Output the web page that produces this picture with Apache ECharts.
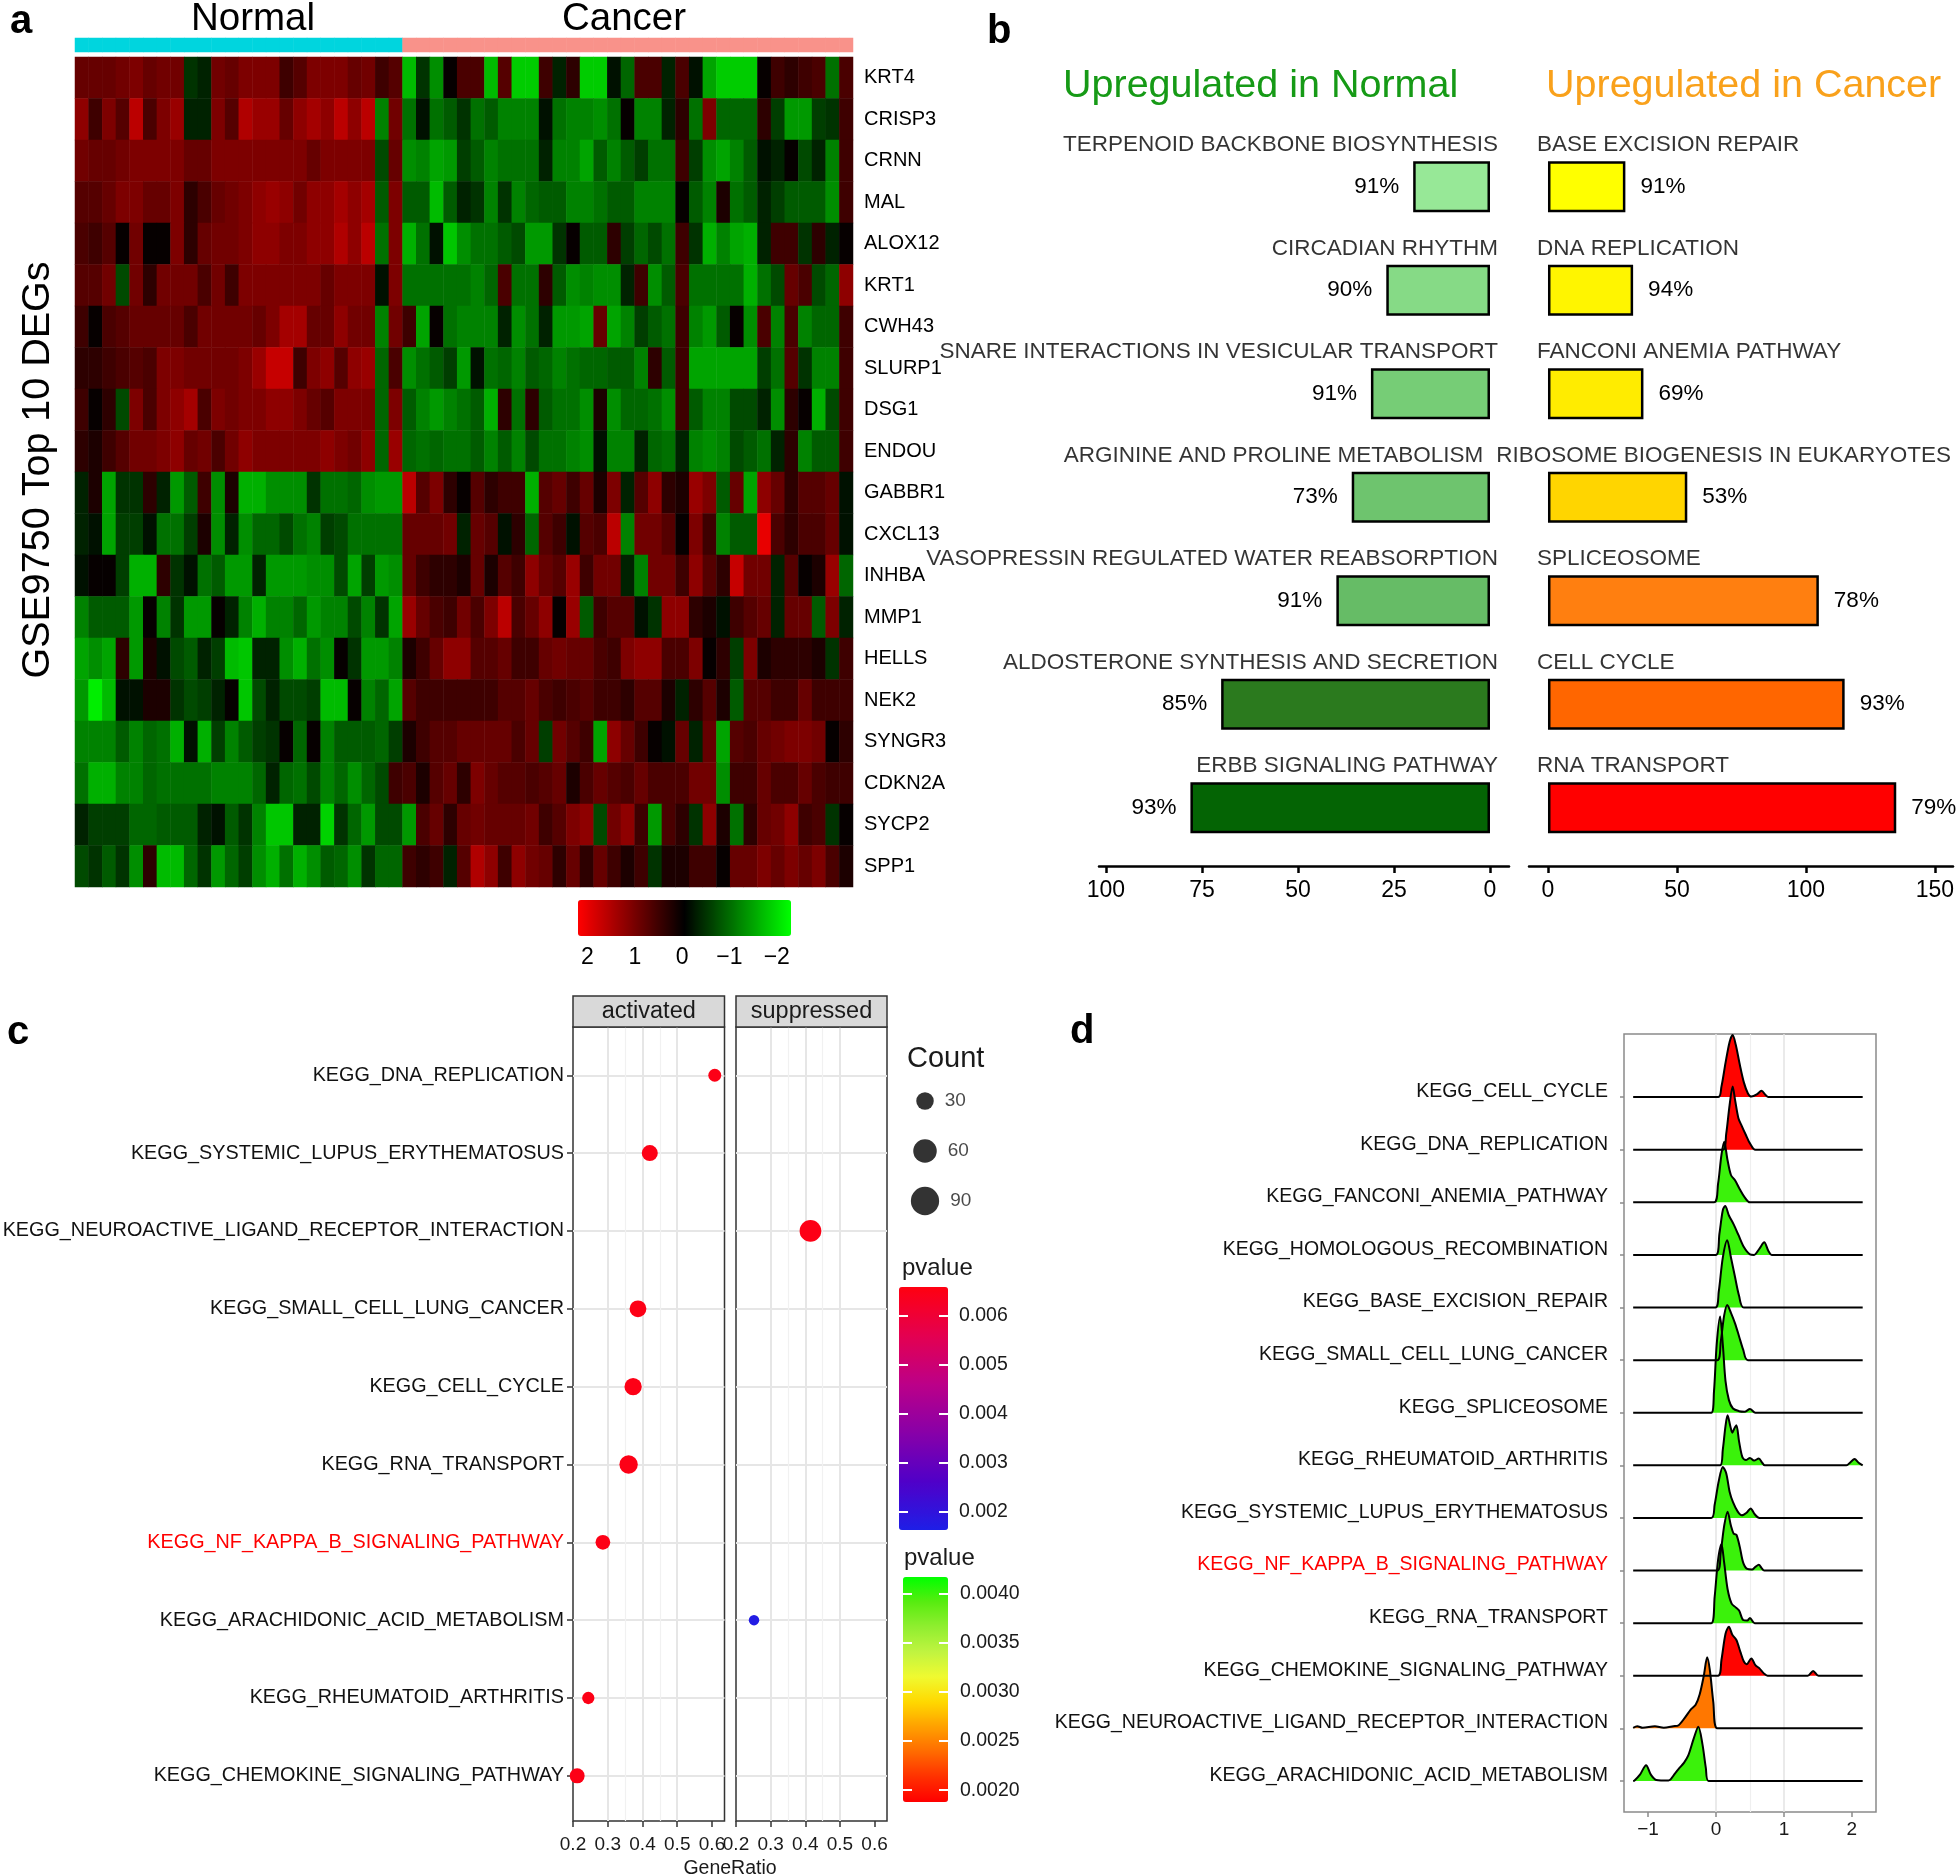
<!DOCTYPE html>
<html><head><meta charset="utf-8">
<script src="https://cdn.jsdelivr.net/npm/echarts@6/dist/echarts.min.js"></script>
<style>html,body{margin:0;padding:0;background:#fff}#c{width:1957px;height:1875px}</style>
</head><body><div id="c"></div>
<script>
// ---------------- DATA ----------------
// (a) heatmap (row z-scores, first 24 columns Normal, next 33 Cancer)
const genes = ['KRT4','CRISP3','CRNN','MAL','ALOX12','KRT1','CWH43','SLURP1','DSG1','ENDOU','GABBR1','CXCL13','INHBA','MMP1','HELLS','NEK2','SYNGR3','CDKN2A','SYCP2','SPP1'];
const groupNames = ['Normal','Cancer'];
const groupSizes = [24, 33];
const expr = [
[0.85,0.85,0.85,0.95,1.05,0.85,0.95,0.95,-0.5,-0.35,0.95,0.85,1.05,1.05,1.05,0.5,0.7,1.05,1.05,1.05,0.85,0.95,0.5,0.7, -1.7,-0.5,-1.3,0,0.6,0.6,-1.7,0.7,-1.85,-1.85,0.5,-0.35,0.35,-1.85,-1.85,-0.2,-0.95,0.6,0.6,-0.35,0.6,-0.2,-1.5,-1.85,-1.85,-1.85,0,0.5,0.35,0.5,0.6,-1.05,0.6],
[1.2,0.5,1.05,0.7,1.6,0.6,1.05,1.3,-0.35,-0.35,1.05,0.7,1.5,1.3,1.3,0.85,1.2,1.4,1.2,1.6,1.2,1.6,-1.2,0.95, -1.05,-0.2,-1.05,-0.85,-0.5,-1.05,-0.85,-1.2,-1.2,-1.2,-0.2,-1.05,-1.2,-1.2,-1.3,-1.05,0,-1.2,-1.2,-0.35,0.35,-1.05,1.05,-0.95,-0.95,-0.95,0.35,-0.6,-1.4,-1.4,-0.6,-0.5,0.5],
[0.95,0.85,0.85,0.95,1.05,1.05,1.05,1.05,0.85,0.85,1.05,1.05,1.05,1.05,1.05,1.05,1.05,0.85,1.05,1.05,1.05,1.05,-0.7,0.85, -1.3,-1.2,-1.5,-1.4,-0.6,-0.85,-1.2,-1.05,-1.05,-1.05,-0.35,-1.2,-1.2,-1.5,-0.85,-1.2,-0.85,-0.6,-1.05,-1.05,0.5,-0.6,-1.3,-1.5,-1.2,-0.85,-0.2,-0.35,0,-0.7,-0.35,-1.2,0.5],
[0.7,0.7,0.85,1.05,1.05,0.85,0.85,1.05,0.35,0.6,0.85,0.95,1.05,1.2,1.3,1.2,0.95,1.2,1.2,1.4,1.2,1.4,-0.85,1.05, -0.85,-0.85,-1.7,-0.85,-0.35,-0.5,-1.2,-0.5,-1.2,-0.95,-0.85,-0.85,-1.2,-1.2,-1.05,-0.85,-0.85,-1.2,-1.2,-1.2,0,-0.85,-1.2,0.2,-1.05,-0.85,-0.35,-0.6,-0.85,-0.85,-0.85,-1.3,0.5],
[0.6,0.5,0.7,0,0.95,0,0,1.05,0.35,0.85,0.95,0.95,1.05,1.2,1.2,1.05,1.05,1.2,1.2,1.5,1.2,1.6,-1.05,1.05, -1.6,-1.05,-0.2,-1.8,-1.3,-1.05,-1.05,-0.85,-0.7,-1.4,-1.4,-0.5,0,-0.85,-0.85,0.35,-0.6,-0.95,-0.7,-1.05,0.5,-0.5,-1.6,-1.2,-1.5,-1.6,-0.35,0.5,0.5,-0.5,0.35,-0.35,0],
[0.7,0.7,0.95,-0.7,0.95,0.35,0.95,0.95,0.95,0.6,0.95,0.5,1.05,1.05,1.05,1.05,1.05,1.05,0.85,1.05,1.05,1.05,-0.2,1.05, -1.05,-1.05,-1.05,-1.05,-1.05,-1.2,-0.95,0.6,-1.05,-1.05,0.35,-0.85,-1.3,-1.2,-1.3,-1.3,-0.35,0.5,-1.3,-0.85,0.6,-1.05,-1.05,-1.05,-1.05,-1.6,-1.05,-0.7,0.85,0.6,-0.7,-0.95,1.2],
[0.5,0,0.6,0.7,0.85,0.85,0.85,0.85,0.6,0.95,0.95,0.95,0.95,0.85,1.05,1.4,1.4,0.85,0.85,1.2,0.95,0.95,-1.2,0.95, 0.5,-1.5,0,-1.05,-1.2,-1.2,-1.2,-0.35,-1.3,-1.05,-0.35,-1.4,-1.4,-1.5,0.85,-1.5,-1.2,-0.6,-0.85,-1.05,0.5,-1.2,-1.4,-0.85,0,-1.3,0.6,-1.2,0.6,-1.2,-0.95,-0.95,0.5],
[0.35,0.35,0.5,0.6,0.7,0.6,1.05,1.05,0.95,0.95,0.95,0.95,1.05,1.3,1.7,1.7,0.5,1.05,1.2,0.7,1.2,1.3,-0.95,0.6, -1.3,-1.05,-0.85,-0.6,-1.4,-0.2,-1.05,-0.95,-1.2,-0.85,-0.95,-1.2,-1.05,-0.95,-0.95,-0.85,-0.85,-1.2,0.35,-0.85,0.5,-1.5,-1.5,-1.5,-1.5,-1.5,-0.6,-1.05,0.7,-0.5,-1.2,-1.2,0.5],
[0.5,0,0.35,-0.7,1.05,0.6,1.05,1.2,1.4,0.6,1.05,0.95,1.05,1.05,1.2,1.2,1.05,0.85,0.7,1.05,1.05,1.05,-0.95,1.05, -0.85,-1.2,-1.4,-1.2,-1.05,-0.85,-1.6,0.35,-1.05,0.35,-0.85,-1.05,-1.05,-1.3,0.2,-1.3,-0.95,-0.95,-1.05,-1.3,0.5,-0.85,-1.2,-1.2,-0.7,-0.7,-0.35,-1.3,0.35,0,-1.6,-0.7,0.5],
[0.35,0.2,0.5,0.7,0.95,0.95,1.05,1.2,0.85,0.95,0.6,0.95,1.2,1.05,1.05,1.05,1.05,1.05,1.2,1.05,0.95,1.2,-0.95,1.3, -0.95,-1.05,-0.95,-1.05,-1.05,-0.85,-1.2,-0.85,-1.2,-0.7,-1.05,-1.05,-1.2,-1.3,-0.2,-1.2,-1.2,-0.35,-0.95,-1.05,-0.35,-1.2,-1.3,-1.2,-0.7,-0.85,-1.05,-0.35,0.35,-1.2,-0.85,-0.85,0.5],
[-0.35,0.2,-1.5,-0.5,-0.5,0.35,-0.35,-1.4,-0.85,0.5,-1.3,0.2,-1.6,-1.6,-1.3,-1.3,-1.3,-0.5,-1.05,-1.05,-0.95,-1.3,-1.4,-1.4, 1.6,0.7,1.05,0.35,0,0.7,0.35,0.5,0.5,-1.6,0.7,0.85,0.5,0.85,0.2,1.05,-0.35,0.7,1.2,0.35,0.2,1.3,1.05,-0.85,0.85,-1.5,1.2,0.85,0.35,0.7,0.7,0.85,-0.2],
[-0.35,-0.2,-1.5,-0.6,-0.6,-0.2,-1.05,-1.05,-0.6,0.2,-1.3,-0.35,-1.3,-0.95,-0.95,-0.7,-1.05,-1.2,-0.6,-0.7,-1.05,-1.05,-1.05,-1.05, 0.85,0.85,0.85,0.95,-0.35,0.85,0.7,-0.2,0.35,-0.95,0.7,0.5,-0.2,0.7,0.6,1.6,-1.2,0.95,0.95,0.7,0,1.05,0.5,-1.2,-0.85,-0.85,2.0,0.6,0.35,0.6,0.6,0.85,-0.2],
[-0.2,0,0,-0.6,-1.6,-1.6,0.35,-0.5,-0.2,-1.05,-0.85,-1.4,-1.4,-0.35,-1.4,-1.4,-1.4,-1.3,-1.3,-0.7,-1.5,-0.6,-1.4,-1.3, 0.85,0.5,0.35,0.35,0.2,0.85,0.2,0.7,0.5,1.2,0.85,0.7,1.3,0.5,0.95,0.95,-0.35,-1.2,0.95,0.95,0.5,1.2,0.7,0.35,1.7,0.95,0.95,-0.35,0.7,0,0.2,1.3,-0.95],
[-1.2,-0.85,-0.85,-0.85,-1.4,0,-1.2,-0.5,-1.4,-1.4,0,-0.35,-1.2,-1.6,-1.2,-1.2,-0.95,-1.4,-1.2,-1.2,-0.7,-1.2,-0.5,-1.5, 1.3,0.85,0.6,0.5,0.95,0.6,1.05,1.6,0.6,0.85,1.2,0,1.3,-0.85,0.5,0.7,0.7,-0.2,-0.5,1.2,1.2,0.35,0.2,-0.2,0.5,0.7,0.85,-0.35,0.85,0.85,-0.85,1.05,-0.35],
[-1.5,-1.3,-1.5,0.35,-1.4,0.2,-0.2,-0.7,-0.85,-0.35,-0.6,-1.7,-1.8,-0.35,-0.35,-1.3,-1.6,-1.05,-1.3,0,-0.5,-1.4,-1.4,-1.2, 0.2,0.5,0.85,1.2,1.2,0.7,0.7,0.85,0.5,0.5,0.85,0.95,0.85,0.85,0.6,0.5,1.05,1.2,1.2,0.6,0.6,1.05,0,0.35,-0.6,1.05,0.2,0.35,0.35,0.35,0.2,-0.5,0.5],
[-1.4,-2.15,-1.7,-0.2,-0.2,0.2,0.2,-0.5,-0.7,-0.6,-0.35,0,-1.8,-0.7,-0.35,-0.7,-0.7,-0.6,-1.7,-1.7,0,-1.2,-0.95,-1.5, 0.7,0.5,0.5,0.5,0.5,0.5,0.5,0.7,0.7,0.85,0.6,0.5,0.6,0.7,0.5,0.5,0.35,0.7,0.7,0.2,-0.35,0.35,0.7,0.2,-0.85,0.7,0.7,0.5,0.5,0.85,0.5,0.5,0.5],
[-1.2,-1.2,-1.2,-0.85,-1.2,-0.95,-1.05,-1.6,-0.2,-1.6,-0.6,-1.2,-0.85,-0.6,-0.5,0,-0.95,0,-1.2,-0.85,-0.85,-0.85,-0.95,-0.6, 0.2,0.5,0.7,0.7,0.85,0.85,0.85,0.85,0.6,0.85,-0.6,0.95,0.7,0.5,-1.5,1.2,0.85,0.5,0,-0.2,0.85,-0.35,0.85,-1.5,0.7,0.6,0.85,0.95,1.05,1.05,0.95,0,0.35],
[-1.05,-1.6,-1.6,-1.2,-1.2,-0.95,-1.05,-1.05,-1.05,-1.05,-1.2,-1.2,-1.2,-0.95,-0.35,-0.95,-1.05,-0.7,-1.2,-0.95,-1.3,-0.95,-0.7,0.5, 0.6,0.2,0.7,0.85,0.35,1.05,0.85,0.7,0.7,0.6,0.7,0.85,0.2,0.6,0.85,0.7,0.6,0.85,0.6,0.6,0.6,0.95,0.95,-1.3,0.5,0.5,0.85,0.6,0.6,0.85,0.6,0.5,0.5],
[-0.35,-0.6,-0.6,-0.6,-0.95,-0.95,-0.85,-0.85,-0.85,-0.35,-0.2,-0.85,-0.5,-1.2,-1.8,-1.8,-0.35,-0.35,-1.9,-0.5,-0.95,-1.4,-0.7,-0.7, -1.4,0.6,0.85,0.35,0.85,0.95,0.85,0.85,0.85,0.95,0.5,0.7,1.05,1.2,-0.7,0.95,1.2,0.5,-1.4,0.6,0.35,-0.5,1.2,0.2,-1.05,0.35,0.85,0.95,1.2,0.5,0.6,-0.5,0],
[-0.7,-0.5,-0.85,-0.5,-1.3,0.35,-1.7,-1.7,-0.95,-0.5,-1.4,-0.95,-0.6,-1.3,-1.6,-1.05,-1.6,-1.3,-0.85,-0.95,-1.3,-0.5,-0.95,-0.95, 0.5,0.35,0.5,-0.35,0.7,1.5,1.2,0.5,1.2,0.95,0.85,0.35,0.85,0.35,0.85,0.5,0.2,0.5,-0.5,0.2,0.2,0.5,0.5,0,0.85,0.85,1.05,0.85,1.05,0.85,1.05,0.6,0.2]
];
const heatTicks = [2, 1, 0, -1, -2];

// (b) pathway bars
const normalPathways = ['TERPENOID BACKBONE BIOSYNTHESIS','CIRCADIAN RHYTHM','SNARE INTERACTIONS IN VESICULAR TRANSPORT','ARGININE AND PROLINE METABOLISM','VASOPRESSIN REGULATED WATER REABSORPTION','ALDOSTERONE SYNTHESIS AND SECRETION','ERBB SIGNALING PATHWAY'];
const normalCounts = [20, 27, 31, 36, 40, 70, 78];
const normalPct = ['91%','90%','91%','73%','91%','85%','93%'];
const cancerPathways = ['BASE EXCISION REPAIR','DNA REPLICATION','FANCONI ANEMIA PATHWAY','RIBOSOME BIOGENESIS IN EUKARYOTES','SPLICEOSOME','CELL CYCLE','RNA TRANSPORT'];
const cancerCounts = [30, 33, 37, 54, 105, 115, 135];
const cancerPct = ['91%','94%','69%','53%','78%','93%','79%'];
const normalTicks = [0, 25, 50, 75, 100];
const cancerTicks = [0, 50, 100, 150];

// (c) GSEA dot plot
const gseaTerms = ['KEGG_DNA_REPLICATION','KEGG_SYSTEMIC_LUPUS_ERYTHEMATOSUS','KEGG_NEUROACTIVE_LIGAND_RECEPTOR_INTERACTION','KEGG_SMALL_CELL_LUNG_CANCER','KEGG_CELL_CYCLE','KEGG_RNA_TRANSPORT','KEGG_NF_KAPPA_B_SIGNALING_PATHWAY','KEGG_ARACHIDONIC_ACID_METABOLISM','KEGG_RHEUMATOID_ARTHRITIS','KEGG_CHEMOKINE_SIGNALING_PATHWAY'];
const gseaGroup = ['activated','activated','suppressed','activated','activated','activated','activated','suppressed','activated','activated'];
const gseaRatio = [0.608, 0.421, 0.415, 0.387, 0.373, 0.360, 0.286, 0.252, 0.244, 0.212];
const gseaCount = [13, 24, 50, 27, 29, 34, 19, 6, 11, 20];
const gseaP = [0.0065, 0.0065, 0.0065, 0.0065, 0.0065, 0.0065, 0.0065, 0.0017, 0.0065, 0.0065];
const highlightTerm = 'KEGG_NF_KAPPA_B_SIGNALING_PATHWAY';
const ratioTicks = [0.2, 0.3, 0.4, 0.5, 0.6];
const ratioMinorTicks = [0.25, 0.35, 0.45, 0.55];
const countLegend = [30, 60, 90];
const pTicks1 = [0.002, 0.003, 0.004, 0.005, 0.006];
const pTicks2 = [0.002, 0.0025, 0.003, 0.0035, 0.004];

// (d) ridge plot (density heights, in row-spacing units)
const ridgeTerms = ['KEGG_CELL_CYCLE','KEGG_DNA_REPLICATION','KEGG_FANCONI_ANEMIA_PATHWAY','KEGG_HOMOLOGOUS_RECOMBINATION','KEGG_BASE_EXCISION_REPAIR','KEGG_SMALL_CELL_LUNG_CANCER','KEGG_SPLICEOSOME','KEGG_RHEUMATOID_ARTHRITIS','KEGG_SYSTEMIC_LUPUS_ERYTHEMATOSUS','KEGG_NF_KAPPA_B_SIGNALING_PATHWAY','KEGG_RNA_TRANSPORT','KEGG_CHEMOKINE_SIGNALING_PATHWAY','KEGG_NEUROACTIVE_LIGAND_RECEPTOR_INTERACTION','KEGG_ARACHIDONIC_ACID_METABOLISM'];
const ridgeP = [0.0019, 0.0019, 0.0040, 0.0040, 0.0040, 0.0040, 0.0040, 0.0040, 0.0040, 0.0040, 0.0040, 0.0019, 0.00245, 0.0040];
const ridgeRange = [-1.22, 2.16];
const ridgeCurves = [
 [[0.03,0],[0.08,0.2],[0.14,0.65],[0.2,1.05],[0.245,1.18],[0.29,1.0],[0.35,0.62],[0.41,0.28],[0.47,0.07],[0.52,0.01],[0.6,0.05],[0.67,0.12],[0.73,0.04],[0.77,0]],
 [[0.1,0],[0.15,0.3],[0.2,0.85],[0.245,1.2],[0.28,0.95],[0.33,0.6],[0.38,0.45],[0.44,0.28],[0.5,0.12],[0.58,0]],
 [[-0.03,0],[0.03,0.35],[0.08,0.9],[0.12,1.15],[0.17,0.8],[0.22,0.52],[0.28,0.42],[0.35,0.25],[0.42,0.1],[0.5,0]],
 [[0,0],[0.05,0.4],[0.1,0.85],[0.135,0.93],[0.19,0.75],[0.26,0.58],[0.33,0.38],[0.41,0.15],[0.5,0.01],[0.56,0],[0.64,0.12],[0.71,0.24],[0.77,0.08],[0.82,0]],
 [[-0.01,0],[0.04,0.3],[0.1,0.95],[0.165,1.28],[0.22,0.95],[0.28,0.58],[0.34,0.22],[0.41,0]],
 [[0.02,0],[0.07,0.35],[0.12,0.85],[0.165,1.05],[0.22,0.9],[0.28,0.7],[0.34,0.45],[0.4,0.2],[0.47,0]],
 [[-0.07,0],[-0.03,0.4],[0.01,1.3],[0.06,1.83],[0.1,1.3],[0.14,0.6],[0.19,0.24],[0.25,0.08],[0.34,0.03],[0.42,0.02],[0.5,0.07],[0.58,0]],
 [[0.06,0],[0.1,0.3],[0.14,0.75],[0.17,0.95],[0.21,0.75],[0.24,0.62],[0.27,0.7],[0.3,0.76],[0.34,0.45],[0.39,0.15],[0.44,0.1],[0.5,0.14],[0.56,0.09],[0.63,0.13],[0.68,0.05],[0.72,0],[1.92,0],[1.98,0.06],[2.04,0.12],[2.1,0.05],[2.16,0]],
 [[-0.07,0],[-0.02,0.25],[0.04,0.7],[0.1,0.97],[0.15,0.85],[0.2,0.5],[0.25,0.3],[0.32,0.12],[0.38,0.05],[0.45,0.1],[0.51,0.18],[0.57,0.07],[0.64,0]],
 [[0.02,0],[0.07,0.35],[0.12,0.85],[0.17,1.12],[0.22,0.85],[0.26,0.7],[0.3,0.68],[0.35,0.45],[0.4,0.15],[0.46,0.03],[0.53,0.02],[0.58,0.07],[0.63,0.11],[0.67,0.05],[0.71,0]],
 [[-0.07,0],[-0.02,0.5],[0.03,1.2],[0.08,1.5],[0.12,1.15],[0.17,0.65],[0.23,0.37],[0.29,0.3],[0.34,0.24],[0.4,0.06],[0.46,0.05],[0.5,0.1],[0.57,0]],
 [[0.03,0],[0.08,0.3],[0.14,0.8],[0.19,0.93],[0.24,0.78],[0.3,0.68],[0.36,0.45],[0.41,0.27],[0.45,0.22],[0.52,0.33],[0.58,0.2],[0.64,0.14],[0.7,0.05],[0.76,0],[1.35,0],[1.43,0.09],[1.51,0]],
 [[-1.22,0.01],[-1.16,0.04],[-1.08,0.01],[-0.9,0.04],[-0.77,0.01],[-0.63,0.04],[-0.55,0.06],[-0.46,0.2],[-0.37,0.36],[-0.3,0.45],[-0.24,0.65],[-0.18,1.0],[-0.13,1.35],[-0.09,1.1],[-0.04,0.5],[0.02,0]],
 [[-1.2,0.01],[-1.12,0.12],[-1.03,0.3],[-0.96,0.12],[-0.88,0.02],[-0.7,0.01],[-0.6,0.15],[-0.55,0.23],[-0.47,0.35],[-0.41,0.48],[-0.33,0.8],[-0.26,1.03],[-0.2,0.7],[-0.15,0.25],[-0.11,0]]
];
const ridgeTicks = [-1, 0, 1, 2];
const ridgeMinorTicks = [-0.5, 0.5, 1.5];

// ---------------- STYLE ----------------
const FONT = 'Liberation Sans, Arial, Helvetica, sans-serif';
const groupColors = ['#00D5DE', '#F9928A'];
const heatColors = ['#00FF00', '#000000', '#FF0000'];
const normalBarColors = ['#97E897','#86DA86','#76CD76','#6EC46E','#66BC66','#2B7A1E','#046404'];
const cancerBarColors = ['#FFFF00','#FFF500','#FFEC00','#FFD500','#FF7F10','#FF6600','#FF0000'];
const pColors1 = ['#1E1EE6','#5000C8','#8800A8','#BC0088','#E40050','#FF0010'];
const pColors2 = ['#FF0000','#FF3000','#FF6A00','#FFA000','#FFD800','#F0FA30','#C0F440','#90EE30','#58EC10','#00FF00'];
const sizeOf = c => 2.864 * Math.sqrt(c + 7.35);
const minus = v => String(v).replace('-', '\u2212');

const mctx = document.createElement('canvas').getContext('2d');
mctx.font = '22.5px ' + FONT;
const textW = s => mctx.measureText(s).width;

// ---------------- BUILD ----------------
const nSamples = groupSizes.reduce((a, b) => a + b, 0);
const sampleIds = Array.from({length: nSamples}, (_, i) => 'S' + (i + 1));
const heatData = [];
expr.forEach((row, r) => row.forEach((v, c) => heatData.push([c, r, v])));
const annotData = [];
let k = 0;
groupSizes.forEach((n, g) => { for (let j = 0; j < n; j++) annotData.push([k++, 0, g]); });

const G = (l, t, w, h, extra) => Object.assign({left: l, top: t, width: w, height: h, containLabel: false, outerBoundsMode: 'none'}, extra || {});
const NOZERO = {show: false, onZero: false};
const hiddenVal = (gi, extra) => Object.assign({type: 'value', gridIndex: gi, show: false, min: 0, max: 1, axisLine: NOZERO}, extra || {});

const idxs = gseaTerms.map((_, i) => i);
const ridgeIdx = ridgeTerms.map((_, i) => i);

// label placement for panel b (right labels shift left if they would leave the canvas; left labels keep a gap)
const rightLabelLeft = cancerPathways.map(n => Math.min(1537, 1951 - textW(n)));
const leftLabelRight = normalPathways.map((n, i) => Math.min(1498, rightLabelLeft[i] - 13));

const xAxis = [
  {type: 'category', gridIndex: 0, data: sampleIds, show: false},
  {type: 'category', gridIndex: 1, data: sampleIds, show: false},
  {type: 'value', gridIndex: 2, min: -2.3, max: 2.2, inverse: true, axisLine: NOZERO, splitLine: {show: false},
   axisTick: {show: false, customValues: heatTicks},
   axisLabel: {customValues: heatTicks, formatter: minus, fontSize: 23, color: '#000', margin: 10.5, fontFamily: FONT}},
  {type: 'value', gridIndex: 3, inverse: true, min: -4.95, max: 101.8, offset: 6.5,
   axisLine: {show: true, onZero: false, lineStyle: {color: '#000', width: 2.5}}, splitLine: {show: false},
   axisTick: {show: true, customValues: normalTicks, length: 7, lineStyle: {color: '#000', width: 2.5}},
   axisLabel: {customValues: normalTicks, fontSize: 23, color: '#000', margin: 13.5, fontFamily: FONT}},
  {type: 'value', gridIndex: 4, min: -7.36, max: 157, offset: 6.5,
   axisLine: {show: true, onZero: false, lineStyle: {color: '#000', width: 2.5}}, splitLine: {show: false},
   axisTick: {show: true, customValues: cancerTicks, length: 7, lineStyle: {color: '#000', width: 2.5}},
   axisLabel: {customValues: cancerTicks, fontSize: 23, color: '#000', margin: 13.5, fontFamily: FONT}},
];
function ratioAxes(gi) {
  return [
    {type: 'value', gridIndex: gi, min: 0.2, max: 0.636, position: 'bottom', z: 3,
     axisLine: NOZERO,
     axisTick: {show: true, customValues: ratioTicks, length: 6, lineStyle: {color: '#333', width: 1.5}},
     axisLabel: {customValues: ratioTicks, fontSize: 19, color: '#1a1a1a', margin: 14.5, fontFamily: FONT},
     splitLine: {show: true, showMinLine: false, showMaxLine: false, lineStyle: {color: '#E6E6E6', width: 2}}},
    {type: 'value', gridIndex: gi, min: 0.2, max: 0.636, position: 'top',
     axisLine: NOZERO, axisLabel: {show: false},
     axisTick: {show: false, customValues: ratioMinorTicks},
     splitLine: {show: true, showMinLine: false, showMaxLine: false, lineStyle: {color: '#F1F1F1', width: 1.2}}}
  ];
}
xAxis.push(...ratioAxes(5));        // 5,6
xAxis.push(...ratioAxes(6));        // 7,8
xAxis.push(hiddenVal(7));           // 9
xAxis.push(hiddenVal(8));           // 10
xAxis.push(hiddenVal(9));           // 11
xAxis.push({type: 'value', gridIndex: 10, min: -1.355, max: 2.356, position: 'bottom',
  axisLine: NOZERO,
  axisTick: {show: true, customValues: ridgeTicks, length: 5, lineStyle: {color: '#8a8a8a', width: 1.5}},
  axisLabel: {customValues: ridgeTicks, formatter: minus, fontSize: 19, color: '#1a1a1a', margin: 8.5, fontFamily: FONT},
  splitLine: {show: true, showMinLine: false, showMaxLine: false, lineStyle: {color: '#E3E3E3', width: 1.5}}}); // 12
xAxis.push({type: 'value', gridIndex: 10, min: -1.355, max: 2.356, position: 'top',
  axisLine: NOZERO, axisLabel: {show: false},
  axisTick: {show: false, customValues: ridgeMinorTicks},
  splitLine: {show: true, showMinLine: false, showMaxLine: false, lineStyle: {color: '#EFEFEF', width: 1.2}}}); // 13

const termLabel = names => v => {
  const n = names[Math.round(v)];
  return n === highlightTerm ? '{hl|' + n + '}' : n;
};
const yAxis = [
  {type: 'category', gridIndex: 0, data: genes, inverse: true, position: 'right',
   axisLine: {show: false}, axisTick: {show: false},
   axisLabel: {interval: 0, fontSize: 20, color: '#000', margin: 11, fontFamily: FONT}},
  {type: 'category', gridIndex: 1, data: ['group'], show: false},
  hiddenVal(2),
  {type: 'category', gridIndex: 3, data: normalPathways, inverse: true, show: false},
  {type: 'category', gridIndex: 4, data: cancerPathways, inverse: true, show: false},
  {type: 'value', gridIndex: 5, inverse: true, min: -0.62, max: 9.58,
   axisLine: NOZERO,
   axisTick: {show: true, customValues: idxs, length: 6, lineStyle: {color: '#333', width: 1.5}},
   axisLabel: {customValues: idxs, formatter: termLabel(gseaTerms), fontSize: 19.8, color: '#111', margin: 9, fontFamily: FONT,
     rich: {hl: {color: '#FF0000', fontSize: 19.8, fontFamily: FONT}}},
   splitLine: {show: true, lineStyle: {color: '#E6E6E6', width: 2}}},
  {type: 'value', gridIndex: 6, inverse: true, min: -0.62, max: 9.58,
   axisLine: NOZERO, axisLabel: {show: false},
   axisTick: {show: false, customValues: idxs},
   splitLine: {show: true, lineStyle: {color: '#E6E6E6', width: 2}}},
  {type: 'category', gridIndex: 7, data: countLegend.map(String), inverse: true, show: false},
  {type: 'value', gridIndex: 8, min: 0.00163, max: 0.00659, position: 'right', z: 10,
   axisLine: NOZERO, splitLine: {show: false},
   axisTick: {show: true, inside: true, customValues: pTicks1, length: 9, lineStyle: {color: '#fff', width: 2}},
   axisLabel: {customValues: pTicks1, formatter: v => v.toFixed(3), fontSize: 19.5, color: '#1a1a1a', margin: 11, fontFamily: FONT}},
  {type: 'value', gridIndex: 8, min: 0.00163, max: 0.00659, position: 'left', z: 10,
   axisLine: NOZERO, splitLine: {show: false}, axisLabel: {show: false},
   axisTick: {show: true, inside: true, customValues: pTicks1, length: 9, lineStyle: {color: '#fff', width: 2}}},
  {type: 'value', gridIndex: 9, min: 0.00188, max: 0.00417, position: 'right', z: 10,
   axisLine: NOZERO, splitLine: {show: false},
   axisTick: {show: true, inside: true, customValues: pTicks2, length: 9, lineStyle: {color: '#fff', width: 2}},
   axisLabel: {customValues: pTicks2, formatter: v => v.toFixed(4), fontSize: 19.5, color: '#1a1a1a', margin: 12, fontFamily: FONT}},
  {type: 'value', gridIndex: 9, min: 0.00188, max: 0.00417, position: 'left', z: 10,
   axisLine: NOZERO, splitLine: {show: false}, axisLabel: {show: false},
   axisTick: {show: true, inside: true, customValues: pTicks2, length: 9, lineStyle: {color: '#fff', width: 2}}},
  {type: 'value', gridIndex: 10, min: -0.59, max: 14.2,
   axisLine: NOZERO, splitLine: {show: false},
   axisTick: {show: true, customValues: ridgeIdx, length: 4, lineStyle: {color: '#8a8a8a', width: 1.5}},
   axisLabel: {customValues: ridgeIdx, formatter: v => termLabel(ridgeTerms)(ridgeTerms.length - 1 - Math.round(v)),
     fontSize: 19.5, color: '#111', margin: 16, fontFamily: FONT, verticalAlign: 'middle', padding: [0, 0, 11, 0],
     rich: {hl: {color: '#FF0000', fontSize: 19.5, fontFamily: FONT}}}}
];

const series = [];
series.push({type: 'heatmap', xAxisIndex: 0, yAxisIndex: 0, data: heatData, silent: true, itemStyle: {borderWidth: 0}, emphasis: {disabled: true}});
series.push({type: 'heatmap', xAxisIndex: 1, yAxisIndex: 1, data: annotData, silent: true, emphasis: {disabled: true}});
series.push({type: 'scatter', xAxisIndex: 2, yAxisIndex: 2, data: []});
const barLabel = {fontSize: 22.5, color: '#000', fontFamily: FONT};
series.push({type: 'bar', xAxisIndex: 3, yAxisIndex: 3, barWidth: 51, silent: true,
  data: normalCounts.map((v, i) => ({value: v, itemStyle: {color: normalBarColors[i]}})),
  itemStyle: {borderColor: '#000', borderWidth: 2.5},
  label: Object.assign({show: true, position: 'left', distance: 14, formatter: p => normalPct[p.dataIndex]}, barLabel)});
series.push({type: 'scatter', xAxisIndex: 3, yAxisIndex: 3, symbolSize: 0, silent: true, itemStyle: {color: 'rgba(0,0,0,0)'},
  data: normalPathways.map((n, i) => ({value: [0, i], label: {offset: [leftLabelRight[i] - 1490, -41.5]}})),
  label: Object.assign({show: true, position: [0, 0], align: 'right', verticalAlign: 'middle',
    formatter: p => normalPathways[p.dataIndex]}, barLabel)});
series.push({type: 'bar', xAxisIndex: 4, yAxisIndex: 4, barWidth: 51, silent: true,
  data: cancerCounts.map((v, i) => ({value: v, itemStyle: {color: cancerBarColors[i]}})),
  itemStyle: {borderColor: '#000', borderWidth: 2.5},
  label: Object.assign({show: true, position: 'right', distance: 15, formatter: p => cancerPct[p.dataIndex]}, barLabel)});
series.push({type: 'scatter', xAxisIndex: 4, yAxisIndex: 4, symbolSize: 0, silent: true, itemStyle: {color: 'rgba(0,0,0,0)'},
  data: cancerPathways.map((n, i) => ({value: [0, i], label: {offset: [rightLabelLeft[i] - 1548, -41.5]}})),
  label: Object.assign({show: true, position: [0, 0], align: 'left', verticalAlign: 'middle',
    formatter: p => cancerPathways[p.dataIndex]}, barLabel)});
['activated', 'suppressed'].forEach((grp, gi) => {
  series.push({type: 'scatter', xAxisIndex: gi === 0 ? 5 : 7, yAxisIndex: gi === 0 ? 5 : 6, silent: true, z: 5,
    data: idxs.filter(i => gseaGroup[i] === grp).map(i => [gseaRatio[i], i, gseaCount[i], gseaP[i]]),
    symbolSize: v => sizeOf(v[2]), itemStyle: {opacity: 1}});
});
series.push({type: 'scatter', xAxisIndex: 9, yAxisIndex: 7, silent: true,
  data: countLegend.map((c, i) => [0.5, i, c]), symbolSize: v => sizeOf(v[2]), itemStyle: {color: '#000'},
  label: {show: true, position: 'right', distance: 11, formatter: p => String(p.value[2]), fontSize: 19, color: '#1a1a1a', fontFamily: FONT}});
series.push({type: 'scatter', xAxisIndex: 10, yAxisIndex: 8, data: []});
series.push({type: 'scatter', xAxisIndex: 11, yAxisIndex: 10, data: []});
const pMin2 = 0.00188, pMax2 = 0.00417;
const ridgeColor = p => echarts.color.lerp((p - pMin2) / (pMax2 - pMin2), pColors2);
ridgeTerms.forEach((name, i) => {
  const base = ridgeTerms.length - 1 - i;
  const curve = ridgeCurves[i];
  const pts = curve.map(([x, h]) => [x, base + h]);
  if (curve[0][0] > ridgeRange[0]) pts.unshift([ridgeRange[0], base]);
  if (curve[curve.length - 1][0] < ridgeRange[1]) pts.push([ridgeRange[1], base]);
  series.push({type: 'line', name, xAxisIndex: 12, yAxisIndex: 12, data: pts, smooth: 0.3, symbol: 'none', silent: true,
    lineStyle: {color: '#000', width: 2}, areaStyle: {color: ridgeColor(ridgeP[i]), opacity: 1, origin: base}, z: 3});
});

const visualMap = [
  {type: 'continuous', seriesIndex: 0, dimension: 2, min: -2.3, max: 2.2, inRange: {color: heatColors},
   orient: 'horizontal', inverse: true, left: 578, top: 900, itemWidth: 36, itemHeight: 213,
   calculable: false, hoverLink: false, padding: 0},
  {type: 'piecewise', show: false, seriesIndex: 1, dimension: 2,
   pieces: groupNames.map((g, i) => ({value: i, color: groupColors[i]}))},
  {type: 'continuous', seriesIndex: [7, 8], dimension: 3, min: 0.00163, max: 0.00659, inRange: {color: pColors1},
   orient: 'vertical', left: 899, top: 1287, itemWidth: 49, itemHeight: 243, calculable: false, hoverLink: false, padding: 0},
  {type: 'continuous', seriesIndex: [11], dimension: 1, min: pMin2, max: pMax2, inRange: {color: pColors2},
   orient: 'vertical', left: 903, top: 1577, itemWidth: 45, itemHeight: 225, calculable: false, hoverLink: false, padding: 0}
];

function T(text, x, y, size, o) {
  o = o || {};
  return {type: 'text', x, y: y + 0.1 * size, rotation: o.rotation || 0, z: 50, silent: true,
    style: {text, fontSize: size, fontFamily: FONT, fontWeight: o.weight || 'normal', fill: o.color || '#000',
      align: o.align || 'left', verticalAlign: 'middle'}};
}
const graphic = [
  T('a', 10, 18, 40, {weight: 'bold'}),
  T('b', 987, 28, 40, {weight: 'bold'}),
  T('c', 7, 1029, 40, {weight: 'bold'}),
  T('d', 1070, 1028, 40, {weight: 'bold'}),
  T(groupNames[0], 253, 16, 38.5, {align: 'center'}),
  T(groupNames[1], 624, 16, 38.5, {align: 'center'}),
  {type: 'text', x: 38, y: 470, rotation: Math.PI / 2, z: 50, silent: true,
   style: {text: 'GSE9750 Top 10 DEGs', fontSize: 39.5, fontFamily: FONT, fill: '#000', align: 'center', verticalAlign: 'middle'}},
  T('Upregulated in Normal', 1063, 82, 39.5, {color: '#169A16'}),
  T('Upregulated in Cancer', 1546, 82, 39.5, {color: '#F9A11B'}),
  {type: 'rect', shape: {x: 573, y: 996, width: 151.5, height: 31}, style: {fill: '#D9D9D9', stroke: '#333', lineWidth: 1.5}, z: 40, silent: true},
  {type: 'rect', shape: {x: 736, y: 996, width: 151, height: 31}, style: {fill: '#D9D9D9', stroke: '#333', lineWidth: 1.5}, z: 40, silent: true},
  T('activated', 648.75, 1009, 23.5, {align: 'center', color: '#1a1a1a'}),
  T('suppressed', 811.5, 1009, 23.5, {align: 'center', color: '#1a1a1a'}),
  T('GeneRatio', 730, 1867, 19.5, {align: 'center', color: '#1a1a1a'}),
  T('Count', 907, 1056, 29, {color: '#1a1a1a'}),
  T('pvalue', 902, 1266, 24, {color: '#1a1a1a'}),
  T('pvalue', 904, 1556, 24, {color: '#1a1a1a'})
];

const option = {
  animation: false,
  backgroundColor: '#fff',
  textStyle: {fontFamily: FONT},
  grid: [
    G(75, 57, 778, 830),
    G(75, 38, 778, 14),
    G(578, 900, 213, 36),
    G(1099, 135, 410, 724.5),
    G(1529, 135, 424, 724.5),
    G(573, 1027, 151.5, 794, {show: true, borderColor: '#333', borderWidth: 1.5, backgroundColor: '#fff'}),
    G(736, 1027, 151, 794, {show: true, borderColor: '#333', borderWidth: 1.5, backgroundColor: '#fff'}),
    G(900, 1076, 50, 150),
    G(899, 1287, 49, 243),
    G(903, 1577, 45, 225),
    G(1624, 1034, 252, 778, {show: true, borderColor: '#8a8a8a', borderWidth: 1.5, backgroundColor: '#fff'})
  ],
  xAxis, yAxis, series, visualMap, graphic
};

const chart = echarts.init(document.getElementById('c'), null, {renderer: 'canvas', width: 1957, height: 1875});
chart.setOption(option);
</script></body></html>
